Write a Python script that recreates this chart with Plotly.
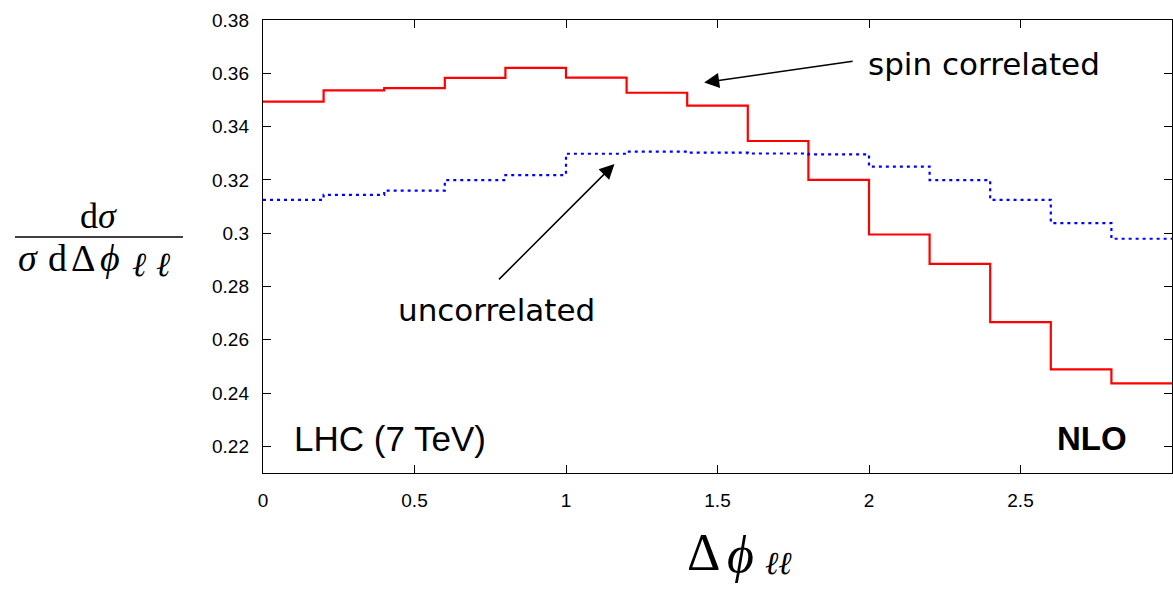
import plotly.graph_objects as go

# ---- data ----
bin_edges = [0.0, 0.2, 0.4, 0.6, 0.8, 1.0, 1.2, 1.4, 1.6, 1.8, 2.0, 2.2, 2.4, 2.6, 2.8, 3.0]
spin_correlated = [0.3494, 0.3536, 0.3544, 0.3583, 0.3620, 0.3584, 0.3527, 0.3479,
                   0.3346, 0.3200, 0.2995, 0.2885, 0.2666, 0.2489, 0.2436]
uncorrelated = [0.3125, 0.3144, 0.3160, 0.3199, 0.3218, 0.3298, 0.3306, 0.3302,
                0.3299, 0.3296, 0.3250, 0.3199, 0.3125, 0.3038, 0.2979]
x_ticks = [0, 0.5, 1, 1.5, 2, 2.5, 3]
x_tick_labels = ["0", "0.5", "1", "1.5", "2", "2.5", "3"]
y_ticks = [0.22, 0.24, 0.26, 0.28, 0.30, 0.32, 0.34, 0.36, 0.38]
y_tick_labels = ["0.22", "0.24", "0.26", "0.28", "0.3", "0.32", "0.34", "0.36", "0.38"]

W, H = 1173, 589
L, R, T, B = 263, 1, 20, 116


def px2paper(px, py):
    """page pixel -> paper coordinates"""
    pw = W - L - R
    ph = H - T - B
    return (px - L) / pw, (H - B - py) / ph


fig = go.Figure()
fig.add_trace(go.Scatter(
    x=bin_edges, y=spin_correlated + [spin_correlated[-1]],
    mode="lines", line=dict(shape="hv", color="#ff0000", width=2.2),
    showlegend=False, hoverinfo="skip"))
fig.add_trace(go.Scatter(
    x=bin_edges, y=uncorrelated + [uncorrelated[-1]],
    mode="lines", line=dict(shape="hv", color="#0000ff", width=2.2, dash="3px,4px"),
    showlegend=False, hoverinfo="skip"))

sans = "Liberation Sans, Arial, sans-serif"
dejavu = "DejaVu Sans, sans-serif"
serif = "DejaVu Serif, Liberation Serif, serif"
serif2 = "Liberation Serif, DejaVu Serif, serif"

annotations = []
# text labels
annotations.append(dict(x=2.379, y=0.3635, xref="x", yref="y", text="spin correlated",
                        showarrow=False, font=dict(family=dejavu, size=31, color="black"),
                        xanchor="center", yanchor="middle"))
annotations.append(dict(x=0.772, y=0.2712, xref="x", yref="y", text="uncorrelated",
                        showarrow=False, font=dict(family=dejavu, size=31, color="black"),
                        xanchor="center", yanchor="middle"))
annotations.append(dict(x=0.4196, y=0.2228, xref="x", yref="y", text="LHC (7 TeV)",
                        showarrow=False, font=dict(family=sans, size=35, color="black"),
                        xanchor="center", yanchor="middle"))
annotations.append(dict(x=2.736, y=0.2228, xref="x", yref="y", text="<b>NLO</b>",
                        showarrow=False, font=dict(family=sans, size=33, color="black"),
                        xanchor="center", yanchor="middle"))
# arrows
annotations.append(dict(x=1.456, y=0.3565, xref="x", yref="y", text="",
                        showarrow=True, axref="pixel", ayref="pixel", ax=150, ay=-21.5,
                        arrowhead=2, arrowsize=2.0, arrowwidth=1.5, arrowcolor="black",
                        standoff=0, startstandoff=0))
annotations.append(dict(x=1.160, y=0.3260, xref="x", yref="y", text="",
                        showarrow=True, axref="pixel", ayref="pixel", ax=-117, ay=117,
                        arrowhead=2, arrowsize=2.0, arrowwidth=1.5, arrowcolor="black",
                        standoff=0, startstandoff=0))


def glyph(text, px, py, size, family=serif2):
    x, y = px2paper(px, py)
    annotations.append(dict(x=x, y=y, xref="paper", yref="paper", text=text,
                            showarrow=False, font=dict(family=family, size=size, color="black"),
                            xanchor="center", yanchor="middle"))


# y-axis title (fraction)
glyph("d<i>σ</i>", 98, 216, 36)
glyph("<i>σ</i>", 28, 258, 38)
glyph("d", 57, 258, 38)
glyph("Δ", 83, 258, 38)
glyph("<i>ϕ</i>", 110, 258, 38)
glyph("<i>ℓ</i>", 139, 264, 34)
glyph("<i>ℓ</i>", 163, 264, 34)

# x-axis title
glyph("Δ", 703, 552, 52)
glyph("<i>ϕ</i>", 740, 554, 52)
glyph("<i>ℓℓ</i>", 778, 563, 32)

bx0, by = px2paper(15, 237)
bx1, _ = px2paper(183, 237)
shapes = [dict(type="line", xref="paper", yref="paper", x0=bx0, x1=bx1, y0=by, y1=by,
               line=dict(color="black", width=1.6))]

fig.update_layout(
    width=W, height=H,
    margin=dict(l=L, r=R, t=T, b=B, pad=0),
    paper_bgcolor="white", plot_bgcolor="white",
    annotations=annotations, shapes=shapes,
    showlegend=False,
)
fig.update_xaxes(range=[0, 3], tickvals=x_ticks, ticktext=x_tick_labels,
                 ticks="inside", ticklen=8, tickwidth=1.2, tickcolor="black",
                 showline=True, linecolor="black", linewidth=1.4, mirror="ticks",
                 showgrid=False, zeroline=False,
                 tickfont=dict(family=sans, size=19, color="black"),
                 ticklabelstandoff=10)
fig.update_yaxes(range=[0.21, 0.38], tickvals=y_ticks, ticktext=y_tick_labels,
                 ticks="inside", ticklen=8, tickwidth=1.2, tickcolor="black",
                 showline=True, linecolor="black", linewidth=1.4, mirror="ticks",
                 showgrid=False, zeroline=False,
                 tickfont=dict(family=sans, size=19, color="black"),
                 ticklabelstandoff=9)

fig.write_html(
    "out.html",
    config={"displayModeBar": False},
    post_script="document.body.style.margin='0';document.body.style.overflow='hidden';",
)
